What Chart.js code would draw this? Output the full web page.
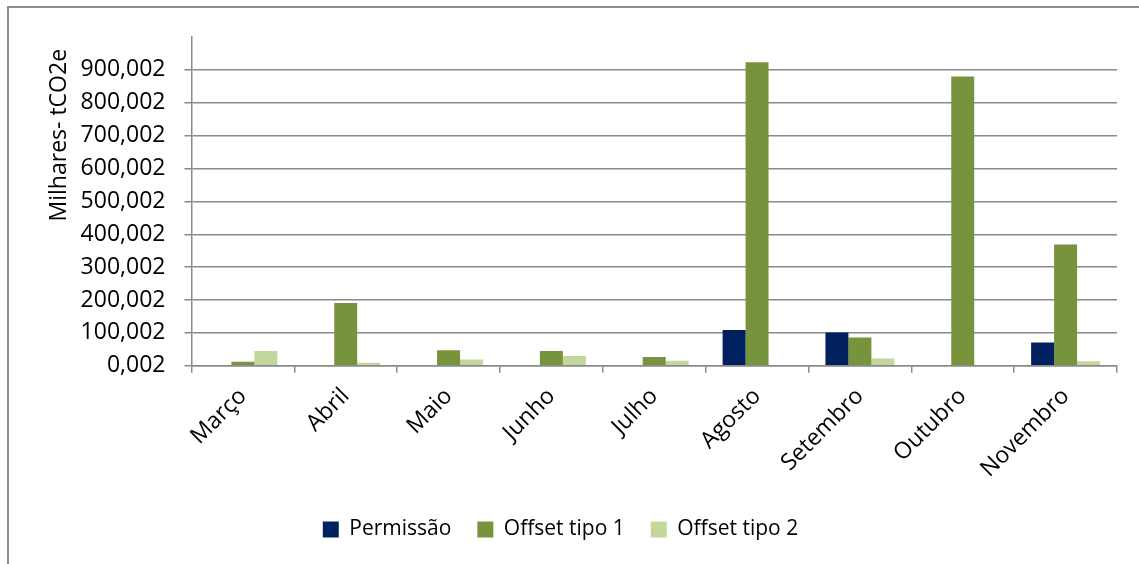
<!DOCTYPE html>
<html>
<head>
<meta charset="utf-8">
<script src="https://cdn.jsdelivr.net/npm/chart.js@4/dist/chart.umd.min.js"></script>
<style>
  html, body { margin: 0; padding: 0; background: #fff; }
  #wrap { position: relative; width: 1139px; height: 564px; overflow: hidden; }
  #frame { position: absolute; left: 7px; top: 6px; width: 1200px; height: 600px;
           border-top: 2px solid #8e8e8e; border-left: 2px solid #8e8e8e; }
  canvas { position: absolute; left: 0; top: 0; }
</style>
</head>
<body>
<div id="wrap">
  <div id="frame"></div>
  <canvas id="emissionsChart" width="1139" height="564"></canvas>
</div>
<script>
const months = ["Março", "Abril", "Maio", "Junho", "Julho", "Agosto", "Setembro", "Outubro", "Novembro"];
const permissao = [0, 0, 0, 0, 0, 109, 101, 0, 71];
const offsetTipo1 = [12, 191, 47, 45, 27, 923, 86, 880, 369];
const offsetTipo2 = [45, 9, 19, 30, 15, 0, 22, 0, 14];
const yTickLabels = ["0,002", "100,002", "200,002", "300,002", "400,002", "500,002", "600,002", "700,002", "800,002", "900,002"];

const font = { family: "Open Sans", size: 23 };
const gridGray = "#8a8a8a";

const ctx = document.getElementById("emissionsChart").getContext("2d");
new Chart(ctx, {
  type: "bar",
  data: {
    labels: months,
    datasets: [
      { label: "Permissão", data: permissao, backgroundColor: "#002060" },
      { label: "Offset tipo 1", data: offsetTipo1, backgroundColor: "#77933C" },
      { label: "Offset tipo 2", data: offsetTipo2, backgroundColor: "#C3D69B" }
    ]
  },
  options: {
    responsive: false,
    animation: false,
    layout: { padding: { left: 4, right: 22, top: 37, bottom: 14 } },
    datasets: {
      bar: { categoryPercentage: 0.67, barPercentage: 1.0 }
    },
    plugins: {
      tooltip: { enabled: false },
      legend: {
        position: "bottom",
        labels: {
          font: { family: "Open Sans", size: 21 },
          color: "#000",
          boxWidth: 16,
          boxHeight: 16,
          padding: 26
        }
      }
    },
    scales: {
      x: {
        grid: { drawOnChartArea: false, color: gridGray, lineWidth: 1.5, tickLength: 7 },
        border: { color: gridGray, width: 1.5 },
        ticks: { font: font, color: "#000", minRotation: 45, maxRotation: 45, padding: 10 }
      },
      y: {
        min: 0,
        max: 1000,
        grid: {
          color: (c) => (c.tick && c.tick.value === 1000 ? "rgba(0,0,0,0)" : gridGray),
          lineWidth: 1.5,
          tickLength: 7
        },
        border: { color: gridGray, width: 1.5 },
        ticks: {
          stepSize: 100,
          font: font,
          color: "#000",
          padding: 19,
          callback: (value, index) => (index < yTickLabels.length ? yTickLabels[index] : "")
        },
        title: {
          display: true,
          text: "Milhares- tCO2e  ",
          align: "end",
          font: font,
          color: "#000",
          padding: { top: 42, bottom: -12 }
        }
      }
    }
  }
});
</script>
</body>
</html>
